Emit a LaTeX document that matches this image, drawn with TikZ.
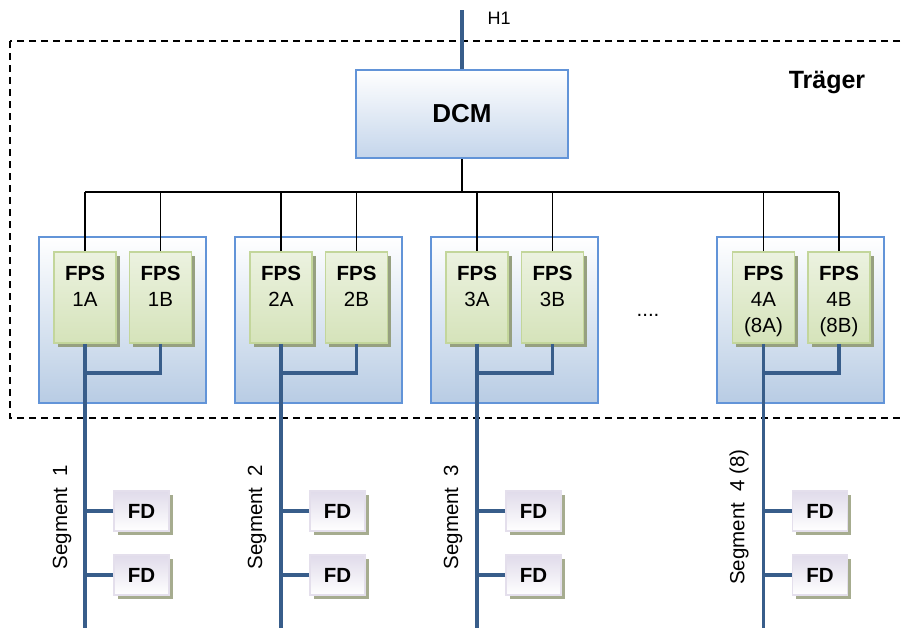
\documentclass[tikz,border=0pt]{standalone}
\usepackage{fontspec}
\setmainfont{Liberation Sans}
\usepackage{tikz}
\usetikzlibrary{shadows}

\definecolor{grpblue}{RGB}{98,148,216}
\definecolor{grpfill}{RGB}{184,204,228}
\definecolor{dcmfill}{RGB}{196,213,235}
\definecolor{trunkblue}{RGB}{56,93,138}
\definecolor{fpsline}{RGB}{195,214,155}
\definecolor{fpstop}{RGB}{236,242,224}
\definecolor{fpsbot}{RGB}{213,227,186}
\definecolor{fpsshadow}{RGB}{150,160,128}
\definecolor{fdline}{RGB}{228,223,236}
\definecolor{fdtop}{RGB}{224,219,234}
\definecolor{fdshadow}{RGB}{166,172,143}

\newcommand{\fpstext}[2]{\rule{0pt}{26pt}\textbf{FPS}\\#1\\#2\strut}

\begin{document}
\begin{tikzpicture}[x=1pt,y=-1pt,node distance=75.5pt,
			font=\fontsize{20.5}{26}\selectfont,
			group node/.style={rectangle,draw=grpblue,line width=1.8pt,
				top color=white,bottom color=grpfill,
				minimum width=167pt,minimum height=166pt,inner sep=0pt},
			dcm node/.style={rectangle,draw=grpblue,line width=2pt,
				top color=white,bottom color=dcmfill,
				minimum width=212pt,minimum height=88pt,
				font=\fontsize{26}{30}\selectfont\bfseries},
			fps node/.style={rectangle,draw=fpsline,line width=1.6pt,
				top color=fpstop,bottom color=fpsbot,
				minimum width=62pt,minimum height=91pt,inner sep=0pt,align=center,
				drop shadow={shadow xshift=3.5pt,shadow yshift=-3.5pt,
					fill=fpsshadow,opacity=1}},
			fd node/.style={rectangle,draw=fdline,line width=1.2pt,
				top color=fdtop,bottom color=white,
				minimum width=55pt,minimum height=40pt,inner sep=0pt,
				font=\fontsize{20.5}{24}\selectfont\bfseries,
				drop shadow={shadow xshift=3.5pt,shadow yshift=-3.5pt,
					fill=fdshadow,opacity=1}},
			bus line/.style={draw=black,line width=1.4pt},
			trunk/.style={draw=trunkblue,line width=3.4pt},
			seg label/.style={rotate=90,inner sep=0pt}]
			
			\useasboundingbox (0,0) rectangle (902,627);
			
			% Traeger
			\draw[black,line width=1.3pt,dash pattern=on 7pt off 5pt]
				(10,41) rectangle (930,418);
			\node[font=\fontsize{25}{30}\selectfont\bfseries] (traeger) at (827,82) {Träger};
			
			\node[group node] (g1) at (122.5,320) {};
			\node[group node] (g2) at (318.5,320) {};
			\node[group node] (g3) at (514.5,320) {};
			\node[group node] (g4) at (800.5,320) {};
			
			\node[dcm node] (dcm) at (462,114) {DCM};
			\coordinate (h1) at (462,10);
			\node[anchor=west,font=\fontsize{18}{22}\selectfont] (h1 label) at (484,18) {H1};
			
			\node[fps node] (f1a) at (85,297.5) {\fpstext{1A}{}};
			\node[fps node] (f1b) [right of=f1a] {\fpstext{1B}{}};
			\node[fps node] (f2a) at (281,297.5) {\fpstext{2A}{}};
			\node[fps node] (f2b) [right of=f2a] {\fpstext{2B}{}};
			\node[fps node] (f3a) at (477,297.5) {\fpstext{3A}{}};
			\node[fps node] (f3b) [right of=f3a] {\fpstext{3B}{}};
			\node[fps node] (f4a) at (763.5,297.5) {\fpstext{4A}{(8A)}};
			\node[fps node] (f4b) [right of=f4a] {\fpstext{4B}{(8B)}};
			
			\node (dots) at (648,315) {....};
			
			\coordinate (bus) at (462,192);
			\coordinate (tap) at (0,373);
			\coordinate (bottom) at (0,632);
			
			\path[bus line]
			(dcm.south) -- (bus)
			(f1a.north |- bus) -- (f4b.north |- bus)
			(f1a.north) -- (f1a.north |- bus)
			(f1b.north) -- (f1b.north |- bus)
			(f2a.north) -- (f2a.north |- bus)
			(f2b.north) -- (f2b.north |- bus)
			(f3a.north) -- (f3a.north |- bus)
			(f3b.north) -- (f3b.north |- bus)
			(f4a.north) -- (f4a.north |- bus)
			(f4b.north) -- (f4b.north |- bus);
			
			\node[fd node] (fd1a) at (141.5,511) {FD};
			\node[fd node] (fd1b) at (141.5,575) {FD};
			\node[fd node] (fd2a) at (337.5,511) {FD};
			\node[fd node] (fd2b) at (337.5,575) {FD};
			\node[fd node] (fd3a) at (533.5,511) {FD};
			\node[fd node] (fd3b) at (533.5,575) {FD};
			\node[fd node] (fd4a) at (820,511) {FD};
			\node[fd node] (fd4b) at (820,575) {FD};
			
			\path[trunk]
			(h1) -- (dcm.north)
			(f1a.south) -- (f1a.south |- bottom)
			(f1b.south) |- (f1a.south |- tap)
			(fd1a.west) -- (fd1a.west -| f1a.south)
			(fd1b.west) -- (fd1b.west -| f1a.south)
			(f2a.south) -- (f2a.south |- bottom)
			(f2b.south) |- (f2a.south |- tap)
			(fd2a.west) -- (fd2a.west -| f2a.south)
			(fd2b.west) -- (fd2b.west -| f2a.south)
			(f3a.south) -- (f3a.south |- bottom)
			(f3b.south) |- (f3a.south |- tap)
			(fd3a.west) -- (fd3a.west -| f3a.south)
			(fd3b.west) -- (fd3b.west -| f3a.south)
			(f4a.south) -- (f4a.south |- bottom)
			(f4b.south) |- (f4a.south |- tap)
			(fd4a.west) -- (fd4a.west -| f4a.south)
			(fd4b.west) -- (fd4b.west -| f4a.south);
			
			\node[seg label] (s1) at (62,517) {Segment~~1};
			\node[seg label] (s2) at (257,517) {Segment~~2};
			\node[seg label] (s3) at (453,517) {Segment~~3};
			\node[seg label] (s4) at (739,517) {Segment~~4~(8)};
		\end{tikzpicture}
\end{document}
